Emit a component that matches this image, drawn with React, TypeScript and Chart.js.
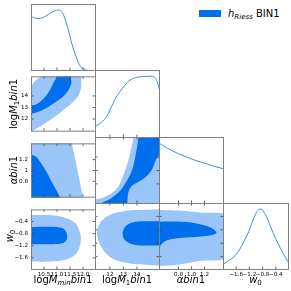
import React, { useEffect, useRef } from 'react';
import { Chart, registerables } from 'chart.js';
Chart.register(...registerables);

type Pt = [number, number];

// ---------------- data ----------------
const logMminRange = [10, 12.5];
const logM1Range = [10.9, 15.7];
const alphaRange = [0.5, 1.5];
const w0Range = [-2, 0];
const densityRange = [0, 1.1];

const logMminTicks = [10.5, 11.0, 11.5, 12.0];
const logMminTickLabels = ['10.5', '11.0', '11.5', '12.0'];
const logM1Ticks = [12, 13, 14];
const logM1TickLabels = ['12', '13', '14'];
const alphaTicks = [0.8, 1.0, 1.2];
const alphaXTickLabels = ['0.8', '1.0', '1.2'];
const alphaYTickLabels = ['0.8', '1', '1.2'];
const w0Ticks = [-1.6, -1.2, -0.8, -0.4];
const w0TickLabels = ['\u22121.6', '\u22121.2', '\u22120.8', '\u22120.4'];

// 1D marginals (normalised to peak 1)
const logMminPdf: Pt[] = [[10.0, 0.9], [10.1, 0.875], [10.27, 0.862], [10.45, 0.875], [10.65, 0.925], [10.84, 0.975], [11.03, 1.0], [11.15, 0.985], [11.24, 0.93], [11.35, 0.8], [11.44, 0.667], [11.54, 0.5], [11.63, 0.362], [11.74, 0.233], [11.82, 0.138], [11.91, 0.075], [12.02, 0.035], [12.16, 0.01], [12.3, 0.0], [12.5, 0.0]];
const logM1Pdf: Pt[] = [[10.9, 0.185], [11.22, 0.229], [11.73, 0.337], [12.23, 0.556], [12.47, 0.659], [12.73, 0.745], [13.11, 0.855], [13.49, 0.937], [13.99, 0.981], [14.49, 0.995], [15.0, 1.0], [15.22, 0.99], [15.37, 0.964], [15.53, 0.887], [15.7, 0.745]];
const alphaPdf: Pt[] = [[0.5, 1.0], [0.558, 0.962], [0.617, 0.924], [0.716, 0.868], [0.826, 0.813], [0.937, 0.766], [1.035, 0.725], [1.14, 0.688], [1.246, 0.655], [1.361, 0.614], [1.5, 0.576]];
const w0Pdf: Pt[] = [[-2.0, 0.09], [-1.832, 0.155], [-1.628, 0.238], [-1.423, 0.405], [-1.322, 0.517], [-1.221, 0.628], [-1.139, 0.75], [-1.069, 0.85], [-0.965, 0.962], [-0.886, 1.0], [-0.812, 0.988], [-0.712, 0.905], [-0.635, 0.817], [-0.559, 0.712], [-0.406, 0.517], [-0.254, 0.35], [-0.1, 0.2], [0.0, 0.11]];

// 2D contours (68% inner, 95% outer)
const mminM1Outer: Pt[] = [[9.8, 14.75], [10.0, 14.91], [10.18, 15.34], [10.43, 15.75], [10.45, 15.9], [11.93, 15.9], [11.93, 15.7], [11.93, 14.77], [11.83, 14.05], [11.62, 13.48], [11.35, 12.98], [11.04, 12.4], [10.73, 11.9], [10.38, 11.4], [10.1, 11.04], [10.0, 10.9], [9.8, 10.7]];
const mminM1Inner: Pt[] = [[9.8, 13.15], [10.02, 13.17], [10.23, 13.29], [10.49, 13.77], [10.69, 14.36], [10.88, 15.2], [11.01, 15.7], [11.03, 15.9], [11.53, 15.9], [11.53, 15.7], [11.55, 15.08], [11.4, 14.36], [11.14, 13.77], [10.75, 13.17], [10.36, 12.69], [10.02, 12.45], [9.8, 12.4]];
const mminAlphaOuter: Pt[] = [[9.8, 1.55], [11.55, 1.55], [11.57, 1.5], [11.79, 1.0], [12.0, 0.5], [12.02, 0.45], [9.8, 0.45]];
const mminAlphaInner: Pt[] = [[9.8, 1.3], [10.0, 1.289], [10.21, 1.25], [10.4, 1.123], [10.6, 0.972], [10.79, 0.797], [10.99, 0.621], [11.11, 0.505], [11.14, 0.45], [9.8, 0.45]];
const mminW0Outer: Pt[] = [[9.8, -0.19], [10.0, -0.19], [10.73, -0.19], [11.37, -0.29], [11.7, -0.45], [11.86, -0.7], [11.92, -0.96], [11.86, -1.26], [11.7, -1.5], [11.37, -1.65], [10.73, -1.72], [10.0, -1.72], [9.8, -1.72]];
const mminW0Inner: Pt[] = [[9.8, -0.58], [10.0, -0.58], [10.99, -0.58], [11.24, -0.63], [11.37, -0.78], [11.39, -0.9], [11.37, -1.0], [11.24, -1.11], [10.85, -1.15], [10.0, -1.15], [9.8, -1.15]];
const m1AlphaOuter: Pt[] = [[10.7, 0.4], [10.7, 0.56], [10.9, 0.571], [11.47, 0.595], [12.11, 0.655], [12.61, 0.756], [12.95, 0.91], [13.3, 1.11], [13.55, 1.31], [13.75, 1.5], [13.78, 1.6], [15.9, 1.6], [15.9, 0.4]];
const m1AlphaInner: Pt[] = [[11.3, 0.4], [11.35, 0.505], [11.98, 0.571], [12.73, 0.69], [13.11, 0.797], [13.62, 0.998], [13.87, 1.198], [14.12, 1.5], [14.14, 1.6], [15.9, 1.6], [15.9, 1.26], [15.7, 1.25], [15.38, 1.149], [15.13, 1.023], [14.75, 0.922], [14.24, 0.847], [13.62, 0.771], [13.36, 0.67], [13.29, 0.505], [13.29, 0.4]];
const m1W0Outer: Pt[] = [[15.9, -0.18], [14.63, -0.2], [13.24, -0.23], [11.98, -0.355], [11.35, -0.555], [11.05, -0.858], [11.23, -1.212], [11.73, -1.515], [12.49, -1.718], [13.74, -1.818], [14.63, -1.84], [15.9, -1.88]];
const m1W0Inner: Pt[] = [[15.9, -0.545], [14.63, -0.545], [13.87, -0.561], [13.34, -0.636], [13.04, -0.758], [12.94, -0.909], [13.04, -1.076], [13.34, -1.182], [13.87, -1.252], [14.63, -1.267], [15.9, -1.273]];
const alphaW0Outer: Pt[] = [[0.45, -0.195], [0.826, -0.227], [1.141, -0.288], [1.55, -0.39], [1.55, -1.61], [1.141, -1.727], [0.826, -1.833], [0.5, -1.88], [0.45, -1.89]];
const alphaW0Inner: Pt[] = [[0.45, -0.56], [0.794, -0.555], [1.062, -0.606], [1.267, -0.712], [1.361, -0.818], [1.385, -0.879], [1.346, -0.939], [1.141, -1.0], [0.826, -1.045], [0.637, -1.106], [0.543, -1.212], [0.5, -1.364], [0.45, -1.4]];

// ---------------- styling / layout ----------------
const DARK = '#006FED';
const LIGHT = '#99C5F8';
const LINE = '#3b8cf0';
const FRAME = '#808080';
const TICK = '#404040';
const FONT = "'DejaVu Sans', sans-serif";
const COLS = [31, 95, 159, 223, 288];
const ROWS = [4, 70, 137, 203, 269];

const params = [
  { range: logMminRange, ticks: logMminTicks, xLabels: logMminTickLabels, yLabels: logMminTickLabels },
  { range: logM1Range, ticks: logM1Ticks, xLabels: logM1TickLabels, yLabels: logM1TickLabels },
  { range: alphaRange, ticks: alphaTicks, xLabels: alphaXTickLabels, yLabels: alphaYTickLabels },
  { range: w0Range, ticks: w0Ticks, xLabels: w0TickLabels, yLabels: w0TickLabels },
];
const marginals = [logMminPdf, logM1Pdf, alphaPdf, w0Pdf];
const contours: Record<string, [Pt[], Pt[]]> = {
  '1,0': [mminM1Outer, mminM1Inner],
  '2,0': [mminAlphaOuter, mminAlphaInner],
  '3,0': [mminW0Outer, mminW0Inner],
  '2,1': [m1AlphaOuter, m1AlphaInner],
  '3,1': [m1W0Outer, m1W0Inner],
  '3,2': [alphaW0Outer, alphaW0Inner],
};

const toXY = (pts: Pt[]) => pts.map(([x, y]) => ({ x, y }));

function Panel({ r, c }: { r: number; c: number }) {
  const ref = useRef<HTMLCanvasElement>(null);
  const x0 = COLS[c], x1 = COLS[c + 1], y0 = ROWS[r], y1 = ROWS[r + 1];
  const labelY = c === 0 && r > 0;
  const labelX = r === 3;
  const left = labelY ? 0 : x0;
  const padL = x0 - left;
  const padB = labelX ? 12 : 0;
  const w = x1 + 1 - left;
  const h = y1 + 1 - y0 + padB;

  useEffect(() => {
    const diag = r === c;
    const px = params[c];
    const py = diag ? null : params[r];
    const datasets: any[] = [];
    if (diag) {
      datasets.push({
        data: toXY(marginals[c]), borderColor: LINE, borderWidth: 1, pointRadius: 0,
        fill: false, cubicInterpolationMode: 'monotone',
      });
    } else {
      const [outer, inner] = contours[`${r},${c}`];
      datasets.push({
        data: toXY(inner), backgroundColor: DARK, borderColor: 'rgba(0,0,0,0)', borderWidth: 0,
        pointRadius: 0, fill: 'shape', tension: 0.3, order: 0,
      });
      datasets.push({
        data: toXY(outer), backgroundColor: LIGHT, borderColor: 'rgba(0,0,0,0)', borderWidth: 0,
        pointRadius: 0, fill: 'shape', tension: 0.3, order: 1,
      });
    }
    const tickFont = { family: FONT, size: 5.6 };
    const frame = {
      id: 'frameTicks',
      afterDraw(chart: any) {
        const { ctx, chartArea: a } = chart;
        const xs = chart.scales.x, ys = chart.scales.y;
        const L = 2.5;
        ctx.save();
        ctx.strokeStyle = TICK;
        ctx.lineWidth = 0.8;
        ctx.beginPath();
        for (const v of px.ticks) {
          const p = xs.getPixelForValue(v);
          ctx.moveTo(p, a.bottom - 1); ctx.lineTo(p, a.bottom - 1 - L);
          if (!diag) { ctx.moveTo(p, a.top); ctx.lineTo(p, a.top + L); }
        }
        if (py) {
          for (const v of py.ticks) {
            const p = ys.getPixelForValue(v);
            ctx.moveTo(a.left, p); ctx.lineTo(a.left + L, p);
            ctx.moveTo(a.right - 1, p); ctx.lineTo(a.right - 1 - L, p);
          }
        }
        ctx.stroke();
        ctx.strokeStyle = FRAME;
        ctx.lineWidth = 1;
        ctx.strokeRect(a.left + 0.5, a.top + 0.5, a.right - a.left - 1, a.bottom - a.top - 1);
        ctx.restore();
      },
    };
    const yRange = py ? py.range : densityRange;
    const chart = new Chart(ref.current as HTMLCanvasElement, {
      type: 'line',
      data: { datasets },
      options: {
        animation: false,
        responsive: false,
        maintainAspectRatio: false,
        devicePixelRatio: 1,
        events: [],
        layout: { padding: 0 },
        plugins: { legend: { display: false }, tooltip: { enabled: false } },
        scales: {
          x: {
            type: 'linear', min: px.range[0], max: px.range[1], display: labelX,
            afterFit: (s: any) => { s.height = padB; },
            afterBuildTicks: (s: any) => { s.ticks = px.ticks.map((v) => ({ value: v })); },
            ticks: {
              callback: (_v: any, i: number) => px.xLabels[i], font: tickFont, color: '#000',
              padding: 1.5, maxRotation: 0, minRotation: 0, autoSkip: false,
            },
            grid: { display: false, drawTicks: false },
            border: { display: false },
          },
          y: {
            type: 'linear', min: yRange[0], max: yRange[1], display: labelY,
            afterFit: (s: any) => { s.width = padL; },
            afterBuildTicks: (s: any) => { if (py) s.ticks = py.ticks.map((v) => ({ value: v })); },
            ticks: {
              callback: (_v: any, i: number) => (py ? py.yLabels[i] : ''), font: tickFont, color: '#000',
              padding: 3, autoSkip: false,
            },
            grid: { display: false, drawTicks: false },
            border: { display: false },
          },
        },
      } as any,
      plugins: [frame],
    });
    return () => chart.destroy();
  }, []);

  return (
    <canvas
      ref={ref}
      width={w}
      height={h}
      style={{ position: 'absolute', left, top: y0, width: w, height: h }}
    />
  );
}

const sub: React.CSSProperties = { fontSize: '7px', position: 'relative', top: '2px', fontStyle: 'italic' };
const it: React.CSSProperties = { fontStyle: 'italic' };

function XTitle({ cx, children }: { cx: number; children: React.ReactNode }) {
  return (
    <div style={{ position: 'absolute', left: cx - 50, top: 273.5, width: 100, height: 12, lineHeight: '12px', fontSize: '10px', fontFamily: FONT, textAlign: 'center', whiteSpace: 'nowrap', color: '#000' }}>
      {children}
    </div>
  );
}

function YTitle({ cx, cy, children }: { cx: number; cy: number; children: React.ReactNode }) {
  return (
    <div style={{ position: 'absolute', left: cx - 50, top: cy - 6, width: 100, height: 12, lineHeight: '12px', fontSize: '10px', fontFamily: FONT, textAlign: 'center', whiteSpace: 'nowrap', color: '#000', transform: 'rotate(-90deg)' }}>
      {children}
    </div>
  );
}

export default function App() {
  const cells: [number, number][] = [];
  for (let r = 0; r < 4; r++) for (let c = 0; c <= r; c++) cells.push([r, c]);
  return (
    <div style={{ position: 'fixed', left: 0, top: 0, width: 291, height: 291, background: '#fff', overflow: 'hidden' }}>
      {cells.map(([r, c]) => <Panel key={`${r}-${c}`} r={r} c={c} />)}
      <XTitle cx={63}>log<span style={it}>M</span><span style={sub}>min</span><span style={it}>bin</span>1</XTitle>
      <XTitle cx={127}>log<span style={it}>M</span><span style={{ ...sub, fontStyle: 'normal' }}>1</span><span style={it}>bin</span>1</XTitle>
      <XTitle cx={191}><span style={it}>αbin</span>1</XTitle>
      <XTitle cx={255.5}><span style={it}>w</span><span style={{ ...sub, fontStyle: 'normal' }}>0</span></XTitle>
      <YTitle cx={13.5} cy={103.5}>log<span style={it}>M</span><span style={{ ...sub, fontStyle: 'normal' }}>1</span><span style={it}>bin</span>1</YTitle>
      <YTitle cx={13.8} cy={170}><span style={it}>αbin</span>1</YTitle>
      <YTitle cx={10} cy={236}><span style={it}>w</span><span style={{ ...sub, fontStyle: 'normal' }}>0</span></YTitle>
      <div style={{ position: 'absolute', left: 199.3, top: 10, width: 21.4, height: 7.3, background: DARK }} />
      <div style={{ position: 'absolute', left: 228, top: 7.5, height: 12, lineHeight: '12px', fontSize: '10px', fontFamily: FONT, whiteSpace: 'nowrap', color: '#000' }}>
        <span style={it}>h</span><span style={sub}>Riess</span> BIN1
      </div>
    </div>
  );
}
